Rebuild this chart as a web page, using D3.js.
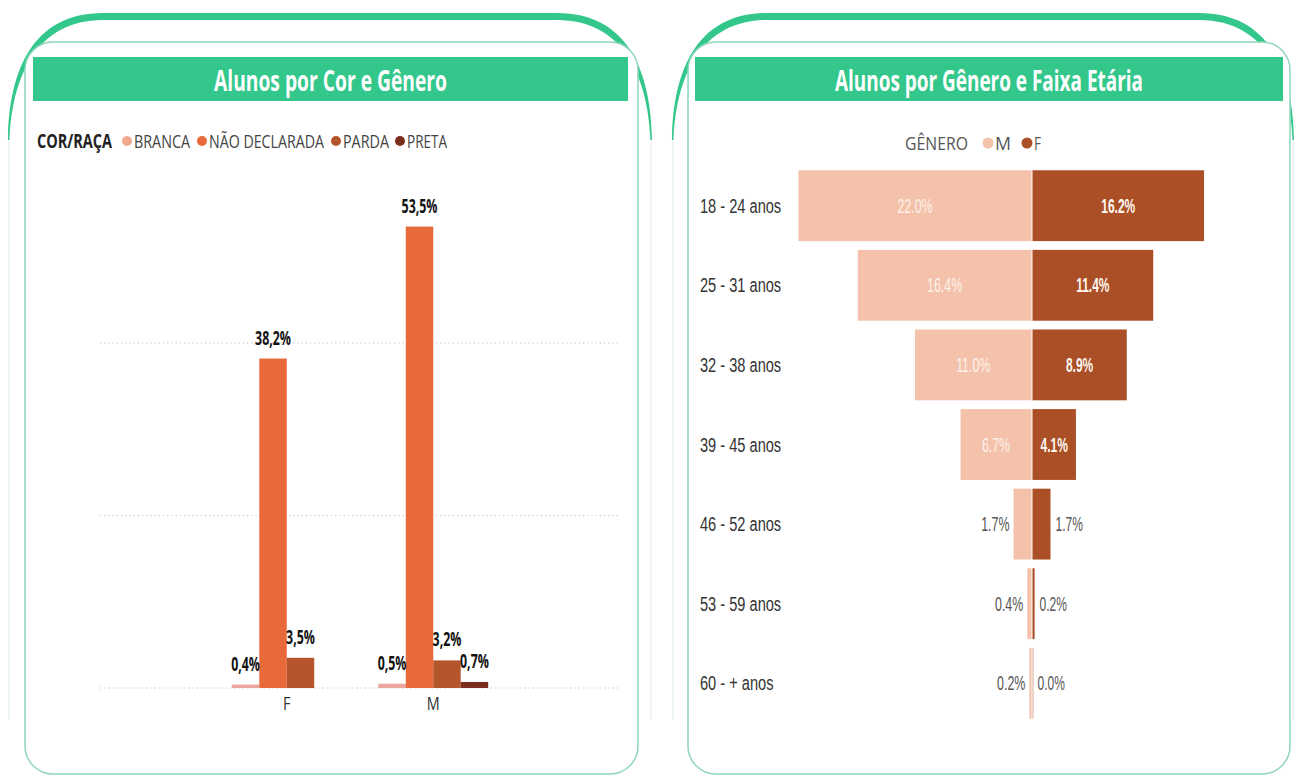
<!DOCTYPE html>
<html lang="pt">
<head>
    <meta charset="UTF-8"/>
    <title>Alunos</title>
    <script src="https://d3js.org/d3.v7.min.js"></script>
    <style>
        body { margin: 0; background: white; }
        svg { display: block; }
    </style>
</head>
<body>
<svg id="chart" width="1296" height="777"></svg>
<script>
    // ---- data: left chart
    const genders = ["F", "M"];
    const races = ["BRANCA", "NÃO DECLARADA", "PARDA", "PRETA"];
    const raceF = [0.4, 38.2, 3.5, null];
    const raceM = [0.5, 53.5, 3.2, 0.7];
    const raceTicks = [0, 20, 40];

    // ---- data: right chart
    const ageGroups = ["18 - 24 anos", "25 - 31 anos", "32 - 38 anos", "39 - 45 anos", "46 - 52 anos", "53 - 59 anos", "60 - + anos"];
    const ageM = [22.0, 16.4, 11.0, 6.7, 1.7, 0.4, 0.2];
    const ageF = [16.2, 11.4, 8.9, 4.1, 1.7, 0.2, 0.0];
    const genderKeys = ["M", "F"];

    const raceColors = ["#f0a98f", "#e8693a", "#b5552b", "#7b2e1e"];
    const genderColors = {M: "#f4c2ab", F: "#aa4f26"};
    const green = "#34c78c";

    const svg = d3.select("#chart");

    // squeeze text horizontally (the reference has a condensed look)
    function condense(sel, f) {
        sel.each(function () {
            const w = this.getComputedTextLength();
            d3.select(this).attr("textLength", w * f).attr("lengthAdjust", "spacingAndGlyphs");
        });
        return sel;
    }

    function fit(sel, w) {
        return sel.attr("textLength", w).attr("lengthAdjust", "spacingAndGlyphs");
    }

    function panel(x0, x1, cardX0, cardX1, barX0, barX1, title, titleW) {
        // outer green crescent
        svg.append("path")
            .attr("d", `M${x0},140 C${x0 + 1},70 ${x0 + 25},13 ${x0 + 95},13 L${x1 - 95},13 C${x1 - 25},13 ${x1 - 1},70 ${x1},140
                        L${x1 - 1.5},140 C${x1 - 4},78 ${x1 - 28},20 ${x1 - 95},20 L${x0 + 95},20 C${x0 + 28},20 ${x0 + 4},78 ${x0 + 1.5},140 Z`)
            .attr("fill", green);
        svg.append("line").attr("x1", x0 + 0.8).attr("x2", x0 + 0.8).attr("y1", 140).attr("y2", 720)
            .attr("stroke", "#e8f3ef").attr("stroke-width", 1.5);
        svg.append("line").attr("x1", x1 - 0.8).attr("x2", x1 - 0.8).attr("y1", 140).attr("y2", 720)
            .attr("stroke", "#e8f3ef").attr("stroke-width", 1.5);

        // inner card
        svg.append("rect")
            .attr("x", cardX0).attr("y", 42)
            .attr("width", cardX1 - cardX0).attr("height", 732)
            .attr("rx", 28)
            .attr("fill", "white")
            .attr("stroke", "#8fd6bb")
            .attr("stroke-width", 1.5);

        // title bar
        svg.append("rect")
            .attr("x", barX0).attr("y", 57)
            .attr("width", barX1 - barX0).attr("height", 44)
            .attr("fill", green);
        const t = svg.append("text")
            .attr("x", (barX0 + barX1) / 2 - titleW / 2).attr("y", 91)
            .style("font-family", "Open Sans")
            .style("font-weight", "bold")
            .style("font-size", "29px")
            .style("fill", "white")
            .text(title);
        fit(t, titleW);
    }

    panel(8, 652, 25, 638, 33, 628, "Alunos por Cor e Gênero", 233);
    panel(672, 1294, 688, 1290, 695, 1283, "Alunos por Gênero e Faixa Etária", 308);

    // ================= left chart =================
    const legL = svg.append("g");
    fit(legL.append("text")
        .attr("x", 37).attr("y", 148)
        .style("font-family", "Open Sans").style("font-weight", "bold").style("font-size", "19px")
        .style("fill", "#222")
        .text("COR/RAÇA"), 75);

    const legX = [127, 202, 336, 400];
    const legW = [56, 115, 46, 40];
    races.forEach((r, i) => {
        legL.append("circle").attr("cx", legX[i]).attr("cy", 141).attr("r", 5).attr("fill", raceColors[i]);
        fit(legL.append("text")
            .attr("x", legX[i] + 7).attr("y", 148)
            .style("font-family", "Open Sans").style("font-size", "19px")
            .style("fill", "#444")
            .text(r), legW[i]);
    });

    const yL = d3.scaleLinear().domain([0, 60]).range([688, 170.5]);
    const xL = d3.scaleBand().domain(genders).range([100, 620]).paddingInner(0.25).paddingOuter(0.9);
    const xSub = d3.scaleBand().domain(races).range([0, xL.bandwidth()]);

    // dotted gridlines
    svg.append("g")
        .selectAll("line")
        .data(raceTicks)
        .join("line")
        .attr("x1", 100).attr("x2", 620)
        .attr("y1", d => yL(d)).attr("y2", d => yL(d))
        .attr("stroke", "#c4c4c4")
        .attr("stroke-width", 1.2)
        .attr("stroke-dasharray", "1.2,3");

    const barData = [];
    genders.forEach((g, gi) => {
        const vals = gi === 0 ? raceF : raceM;
        races.forEach((r, ri) => {
            if (vals[ri] !== null) barData.push({g: g, r: r, v: vals[ri], c: raceColors[ri]});
        });
    });

    const barsL = svg.append("g");
    barsL.selectAll("rect")
        .data(barData)
        .join("rect")
        .attr("x", d => xL(d.g) + xSub(d.r))
        .attr("y", d => yL(d.v))
        .attr("width", xSub.bandwidth())
        .attr("height", d => yL(0) - yL(d.v))
        .attr("fill", d => d.r === "BRANCA" ? "#eaa79b" : d.c);

    const lblL = barsL.selectAll("text")
        .data(barData)
        .join("text")
        .attr("x", d => xL(d.g) + xSub(d.r) + xSub.bandwidth() / 2)
        .attr("y", d => yL(d.v) - 14)
        .attr("text-anchor", "middle")
        .style("font-family", "Open Sans").style("font-weight", "bold").style("font-size", "19px")
        .style("fill", "#111")
        .text(d => d.v.toFixed(1).replace(".", ",") + "%");
    condense(lblL, 0.65);

    const axL = svg.append("g")
        .attr("transform", `translate(0, 688)`)
        .call(d3.axisBottom(xL).tickSize(0).tickPadding(9));
    axL.select(".domain").remove();
    axL.selectAll("text")
        .style("font-family", "Open Sans").style("font-size", "18px").style("fill", "#333");
    condense(axL.selectAll("text"), 0.8);

    // ================= right chart =================
    const legR = svg.append("g");
    fit(legR.append("text")
        .attr("x", 905).attr("y", 150)
        .style("font-family", "Open Sans").style("font-size", "18px").style("fill", "#555")
        .text("GÊNERO"), 63);
    const legRX = [988, 1027];
    const legRW = [16, 7];
    genderKeys.forEach((k, i) => {
        legR.append("circle").attr("cx", legRX[i]).attr("cy", 143).attr("r", 5.5).attr("fill", genderColors[k]);
        fit(legR.append("text")
            .attr("x", legRX[i] + 7).attr("y", 150)
            .style("font-family", "Open Sans").style("font-size", "18px").style("fill", "#555")
            .text(k), legRW[i]);
    });

    const center = 1031.5;
    const yR = d3.scaleBand().domain(ageGroups).range([161.5, 727.5]).padding(0.11);
    const wR = d3.scaleLinear().domain([0, 22]).range([0, 233]);

    const rows = ageGroups.map((a, i) => ({a: a, m: ageM[i], f: ageF[i]}));

    const gR = svg.append("g");
    gR.selectAll("rect.m")
        .data(rows)
        .join("rect")
        .attr("class", "m")
        .attr("x", d => center - wR(d.m))
        .attr("y", d => yR(d.a))
        .attr("width", d => wR(d.m))
        .attr("height", yR.bandwidth())
        .attr("fill", genderColors.M);
    gR.selectAll("rect.f")
        .data(rows)
        .join("rect")
        .attr("class", "f")
        .attr("x", center + 1)
        .attr("y", d => yR(d.a))
        .attr("width", d => Math.max(wR(d.f), 1))
        .attr("height", yR.bandwidth())
        .attr("fill", d => d.f > 0 ? genderColors.F : "#d9a892");

    const fmt = v => v.toFixed(1) + "%";
    const rFont = "'Liberation Sans', Arial, sans-serif";
    const inside = w => w > 30;

    const mLbl = gR.selectAll("text.ml")
        .data(rows)
        .join("text")
        .attr("class", "ml")
        .attr("x", d => inside(wR(d.m)) ? center - wR(d.m) / 2 : center - wR(d.m) - 4)
        .attr("y", d => yR(d.a) + yR.bandwidth() / 2 + 7)
        .attr("text-anchor", d => inside(wR(d.m)) ? "middle" : "end")
        .style("font-family", rFont).style("font-size", "20px")
        .style("fill", d => inside(wR(d.m)) ? "#fdf1ea" : "#555")
        .text(d => fmt(d.m));
    condense(mLbl, 0.62);
    const fLbl = gR.selectAll("text.fl")
        .data(rows)
        .join("text")
        .attr("class", "fl")
        .attr("x", d => inside(wR(d.f)) ? center + 1 + wR(d.f) / 2 : center + wR(d.f) + 6)
        .attr("y", d => yR(d.a) + yR.bandwidth() / 2 + 7)
        .attr("text-anchor", d => inside(wR(d.f)) ? "middle" : "start")
        .style("font-family", rFont).style("font-size", "20px")
        .style("font-weight", d => inside(wR(d.f)) ? "bold" : "normal")
        .style("fill", d => inside(wR(d.f)) ? "#fff8f2" : "#555")
        .text(d => fmt(d.f));
    condense(fLbl, 0.6);

    const axR = svg.append("g")
        .attr("transform", `translate(700, 0)`)
        .call(d3.axisLeft(yR).tickSize(0).tickPadding(0));
    axR.select(".domain").remove();
    axR.selectAll("text")
        .attr("text-anchor", "start")
        .attr("dy", "0.35em")
        .style("font-family", rFont).style("font-size", "20px").style("fill", "#333");
    condense(axR.selectAll("text"), 0.73);
</script>
</body>
</html>
